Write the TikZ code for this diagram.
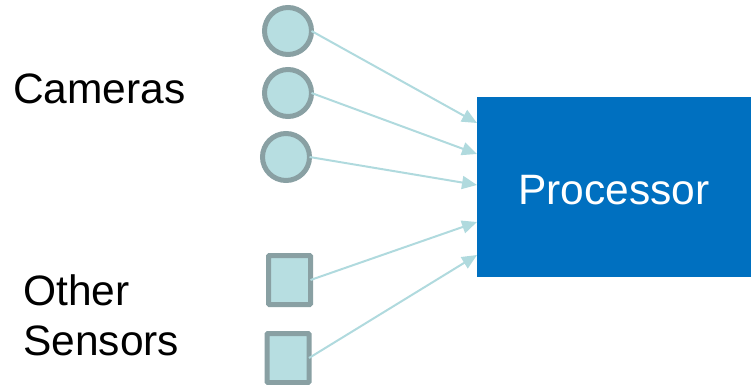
\documentclass[tikz,border=0pt]{standalone}
\usepackage{fontspec}
\setmainfont{Liberation Sans}
\usetikzlibrary{arrows.meta}
\definecolor{procblue}{RGB}{0,112,192}
\definecolor{camfill}{RGB}{183,222,225}
\definecolor{camline}{RGB}{137,160,163}
\definecolor{wirecol}{RGB}{176,218,222}

\begin{document}
\begin{tikzpicture}[x=1pt,y=-1pt,
  cam/.style={circle,draw=camline,fill=camfill,line width=5pt,minimum size=47pt,inner sep=0pt,outer sep=0pt},
  sensor/.style={rectangle,draw=camline,fill=camfill,line width=5pt,minimum width=42pt,minimum height=49pt,inner sep=0pt,outer sep=0pt,rounded corners=1pt},
  wire/.style={draw=wirecol,line width=2pt,-{Triangle[length=15pt,width=13pt]}},
  txt/.style={font=\fontsize{42.5}{50}\selectfont,inner sep=0pt,anchor=base west}]
\useasboundingbox (0,0) rectangle (754,385);
% inputs
\node[cam] (c1) at (288,31) {};
\node[cam] (c2) at (288,93) {};
\node[cam] (c3) at (286,157) {};
\node[sensor] (s1) at (289.5,280) {};
\node[sensor] (s2) at (288,358) {};
% processor
\node[fill=procblue,minimum width=274pt,minimum height=180pt,inner sep=0pt,outer sep=0pt,text=white,text height=34pt,text depth=0pt,font=\fontsize{42.5}{50}\selectfont] (p) at (614,187) {Processor};
% labels
\node[txt] (cam) at (13,104) {Cameras};
\node[txt] (oth) at (23,305) {Other};
\node[txt] (sen) at (23,355) {Sensors};
% wires
\draw[wire] (c1.east) -- ([yshift=64pt]p.west);
\draw[wire] (c2.east) -- ([yshift=33pt]p.west);
\draw[wire] (c3.east) -- ([yshift=2pt]p.west);
\draw[wire] (s1.east) -- ([yshift=-35pt]p.west);
\draw[wire] (s2.east) -- ([yshift=-68pt]p.west);
\end{tikzpicture}
\end{document}
